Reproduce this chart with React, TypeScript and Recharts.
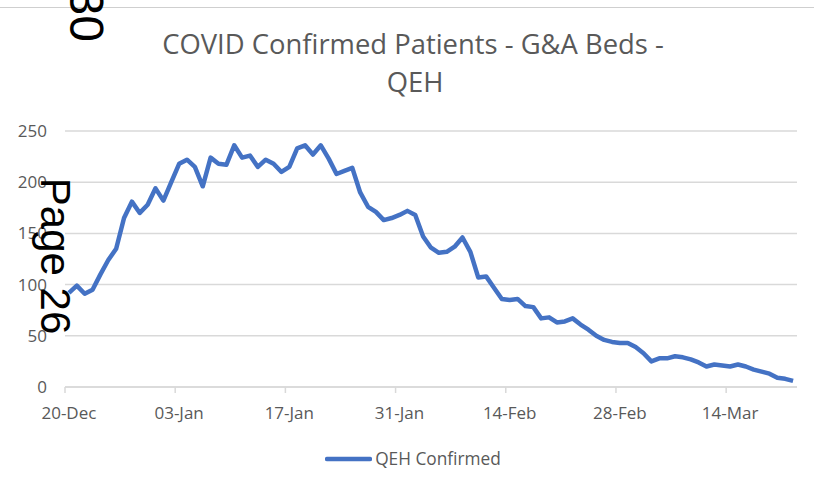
import React from 'react';
import { LineChart, Line, XAxis, YAxis, CartesianGrid } from 'recharts';

// daily QEH confirmed patients, 20-Dec to 22-Mar
const confirmed = [
  92, 99, 91, 95, 110, 124, 135, 165, 181, 170, 178, 194, 182, 200, 218, 222,
  215, 196, 224, 218, 217, 236, 224, 226, 215, 222, 218, 210, 215, 233, 236, 227,
  236, 223, 208, 211, 214, 190, 176, 171, 163, 165, 168, 172, 168, 147, 136, 131,
  132, 137, 146, 132, 107, 108, 97, 86, 85, 86, 79, 78, 67, 68, 63, 64, 67, 61,
  56, 50, 46, 44, 43, 43, 39, 33, 25, 28, 28, 30, 29, 27, 24, 20, 22, 21, 20, 22,
  20, 17, 15, 13, 9, 8, 6
];

const xTickDays = [0, 14, 28, 42, 56, 70, 84];
const xTickLabels = ['20-Dec', '03-Jan', '17-Jan', '31-Jan', '14-Feb', '28-Feb', '14-Mar'];
const yTicks = [0, 50, 100, 150, 200, 250];

const data = confirmed.map((v, i) => ({ day: i, value: v }));

const W = 814;
const H = 488;
const PLOT_LEFT = 65;
const PLOT_RIGHT = 797;
const halfSlot = (PLOT_RIGHT - PLOT_LEFT) / confirmed.length / 2;

const grey = '#595959';
const font = '"Open Sans", sans-serif';

const DateTick = (props: any) => {
  const { x, y, payload } = props;
  const idx = xTickDays.indexOf(payload.value);
  const axisY = y - 8;
  return (
    <g>
      <line x1={x - halfSlot} x2={x - halfSlot} y1={axisY} y2={axisY + 6} stroke="#d9d9d9" strokeWidth={1.5} />
      <text x={x} y={axisY + 32} textAnchor="middle" fill={grey} fontSize={17} fontFamily={font}>
        {xTickLabels[idx]}
      </text>
    </g>
  );
};

const App = () => {
  return (
    <div style={{ position: 'absolute', left: 0, top: 0, width: W, height: H, background: '#fff' }}>
      <LineChart
        width={W}
        height={H}
        data={data}
        margin={{ top: 131, right: W - PLOT_RIGHT, left: 8, bottom: 71 }}
        style={{ fontFamily: font }}
      >
        <CartesianGrid vertical={false} stroke="#d9d9d9" strokeWidth={1.5} />
        <XAxis
          type="number"
          dataKey="day"
          domain={[-0.5, confirmed.length - 0.5]}
          ticks={xTickDays}
          interval={0}
          height={30}
          axisLine={{ stroke: '#d9d9d9', strokeWidth: 1.5 }}
          tickLine={false}
          tick={<DateTick />}
        />
        <YAxis
          width={57}
          domain={[0, 250]}
          ticks={yTicks}
          interval={0}
          axisLine={false}
          tickLine={false}
          tickMargin={12}
          tick={{ fill: grey, fontSize: 17, fontFamily: font }}
        />
        <Line
          type="linear"
          dataKey="value"
          name="QEH Confirmed"
          stroke="#4472C4"
          strokeWidth={4.5}
          strokeLinejoin="round"
          dot={false}
          isAnimationActive={false}
        />
      </LineChart>

      {/* title */}
      <div
        style={{
          position: 'absolute', left: 0, top: 25, width: W, textAlign: 'center',
          fontFamily: font, fontSize: 27.4, lineHeight: '38px', color: grey
        }}
      >
        <div style={{ paddingLeft: 12 }}>COVID Confirmed Patients - G&amp;A Beds -</div>
        <div style={{ paddingLeft: 16 }}>QEH</div>
      </div>

      {/* legend */}
      <div
        style={{
          position: 'absolute', left: 6, top: 447, width: W, display: 'flex',
          justifyContent: 'center', alignItems: 'center', fontFamily: font, fontSize: 17.3, color: grey
        }}
      >
        <svg width={47} height={10} style={{ marginRight: 3 }}>
          <line x1={2} x2={45} y1={5} y2={5} stroke="#4472C4" strokeWidth={4.5} strokeLinecap="round" />
        </svg>
        <span>QEH Confirmed</span>
      </div>

      {/* page stamps from the scanned document */}
      <svg width={W} height={H} style={{ position: 'absolute', left: 0, top: 0, pointerEvents: 'none' }}>
        <line x1={0} x2={W} y1={7.5} y2={7.5} stroke="#cfcfcf" strokeWidth={1} />
        <text x={70} y={42} textAnchor="end" transform="rotate(90 70 42)" fontSize={48} fontFamily='"Liberation Sans", Arial, sans-serif' fill="#000">30</text>
        <text x={41} y={256} textAnchor="middle" transform="rotate(90 41 256)" fontSize={42} fontFamily='"Liberation Sans", Arial, sans-serif' fill="#000">Page 26</text>
      </svg>
    </div>
  );
};

export default App;
